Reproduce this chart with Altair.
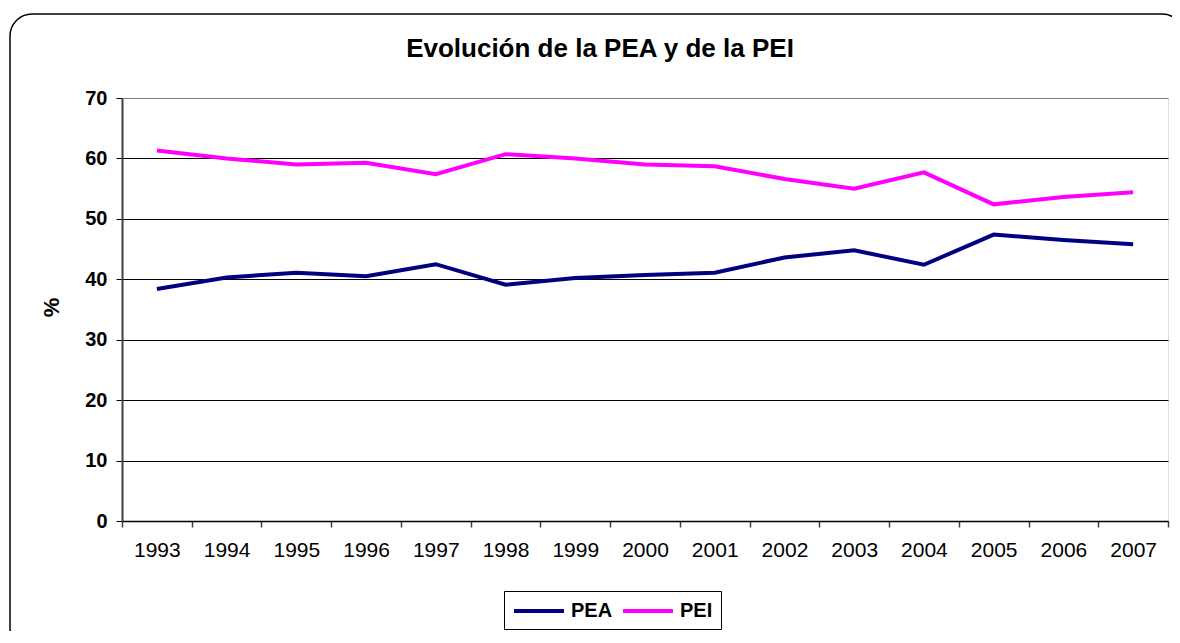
import altair as alt
import pandas as pd

years = ["1993", "1994", "1995", "1996", "1997", "1998", "1999", "2000",
         "2001", "2002", "2003", "2004", "2005", "2006", "2007"]
pea = [38.4, 40.3, 41.1, 40.5, 42.5, 39.1, 40.2, 40.7, 41.1, 43.6, 44.8, 42.4, 47.4, 46.5, 45.8]
pei = [61.3, 60.0, 59.0, 59.3, 57.4, 60.7, 60.0, 59.0, 58.7, 56.6, 55.0, 57.7, 52.4, 53.6, 54.4]
series_names = ["PEA", "PEI"]
series_colors = ["#000080", "#FF00FF"]
y_ticks = [0, 10, 20, 30, 40, 50, 60, 70]

FONT = "Liberation Sans"

rows = []
for name, vals in zip(series_names, [pea, pei]):
    for yr, v in zip(years, vals):
        rows.append({"year": yr, "value": v, "serie": name})
df = pd.DataFrame(rows)

lines = alt.Chart(df).mark_line(strokeWidth=4).encode(
    x=alt.X("year:O", sort=years,
            scale=alt.Scale(type="band", paddingInner=0, paddingOuter=0),
            axis=alt.Axis(title=None, labelAngle=0, labelFont=FONT, labelFontSize=21,
                          labelColor="black", labelPadding=12, tickBand="extent",
                          tickSize=6, tickColor="#404040", tickWidth=1.5,
                          domainColor="black", domainWidth=1.5, grid=False)),
    y=alt.Y("value:Q", scale=alt.Scale(domain=[0, 70], nice=False),
            axis=alt.Axis(title="%", values=y_ticks, labelFont=FONT, labelFontSize=20,
                          labelFontWeight="bold", labelColor="black", labelPadding=9,
                          tickSize=6, tickColor="black", tickWidth=1,
                          domainColor="#404040", domainWidth=2,
                          grid=True,
                          gridColor=alt.condition("datum.value == 70", alt.value("#808080"), alt.value("black")),
                          gridWidth=1,
                          titleFont=FONT, titleFontSize=22, titleFontWeight="bold",
                          titleColor="black", titleX=-71, titleY=209,
                          titleAlign="center", titleBaseline="middle")),
    color=alt.Color("serie:N",
                    scale=alt.Scale(domain=series_names, range=series_colors),
                    legend=alt.Legend(title=None, orient="none", legendX=382, legendY=493,
                                      direction="horizontal", strokeColor="black",
                                      padding=8, symbolType="M-1,0H4", symbolSize=400,
                                      symbolStrokeWidth=4, symbolFillColor="transparent",
                                      labelFont=FONT,
                                      labelFontSize=20, labelFontWeight="bold",
                                      labelColor="black", labelOffset=35,
                                      columnPadding=2, fillColor="white")),
)

frame = alt.Chart(pd.DataFrame({"k": [0]})).mark_rect(
    fill="transparent", stroke="black", strokeWidth=1.5, cornerRadius=22
).encode(
    x=alt.value(-112), y=alt.value(-84), x2=alt.value(1062), y2=alt.value(552)
)

chart = alt.layer(frame, lines).properties(
    width=1046, height=423,
    title=alt.TitleParams("Evolución de la PEA y de la PEI", font=FONT, fontSize=26,
                          fontWeight="bold", color="black", anchor="middle",
                          frame="group", dx=-45, offset=-70, baseline="alphabetic"),
    autosize=alt.AutoSizeParams(type="none"),
    padding={"left": 114, "top": 90, "right": 4, "bottom": 110},
).configure_view(stroke="#808080", strokeWidth=2).configure(background="white")

chart.save("out.html", embed_options={"renderer": "svg", "actions": False})
